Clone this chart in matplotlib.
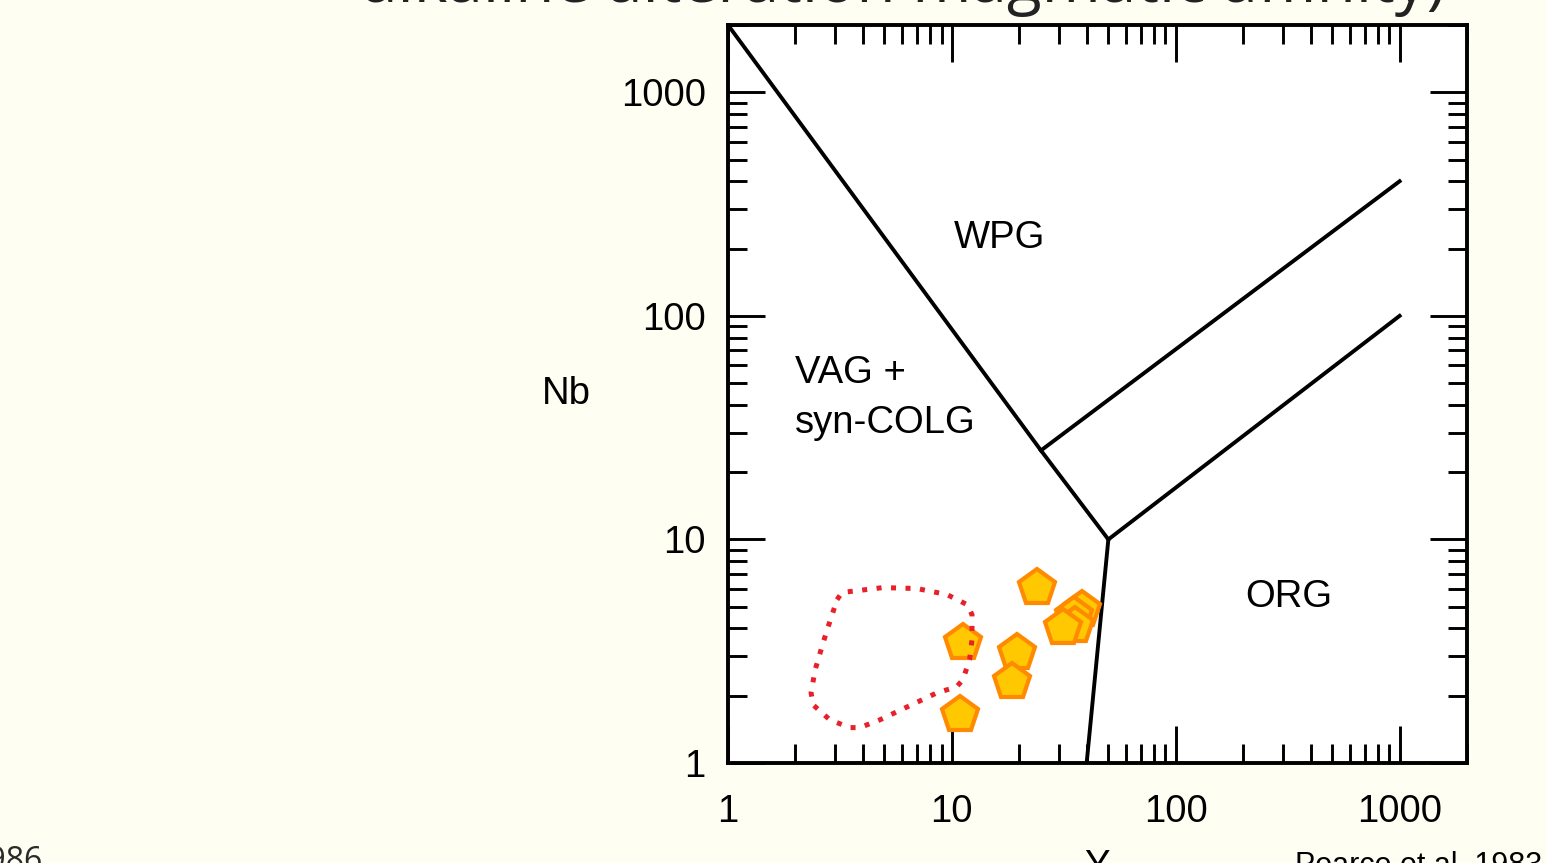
import numpy as np
import matplotlib.pyplot as plt
from matplotlib.ticker import LogLocator, NullFormatter

# Pearce et al. (1984) Nb-Y discrimination boundaries
wpg_line_x = [1, 25, 50]
wpg_line_y = [2000, 25, 10]
org_upper_x = [25, 1000]
org_upper_y = [25, 400]
org_lower_x = [50, 1000]
org_lower_y = [10, 100]
org_base_x = [50, 40]
org_base_y = [10, 1]

# samples
sample_y = [23.9, 11.2, 19.6, 18.5, 10.9, 38.0, 35.1, 35.4, 31.3]
sample_nb = [6.07, 3.44, 3.12, 2.31, 1.64, 4.85, 4.56, 4.11, 4.03]

# dotted reference field (clockwise from top-left)
field_y = [3.07, 3.23, 4.92, 6.98, 9.5, 11.7, 12.3, 12.3, 12.0, 11.2, 10.5,
           8.57, 6.30, 4.77, 3.88, 3.50, 2.85, 2.40, 2.35, 2.45, 2.66, 2.85, 3.07]
field_nb = [5.38, 5.79, 6.09, 6.03, 5.67, 5.11, 4.61, 3.56, 2.90, 2.36, 2.19,
            2.06, 1.78, 1.56, 1.44, 1.44, 1.56, 1.82, 2.06, 2.61, 3.45, 4.29, 5.38]

region_labels = ["WPG", "VAG +\nsyn-COLG", "ORG"]
region_pos = [(16.4, 224), (2.0, 43), (319, 5.55)]

tick_vals = [1, 10, 100, 1000]
tick_labels = ["1", "10", "100", "1000"]

W, H = 1547, 863
fig = plt.figure(figsize=(W / 100, H / 100), dpi=100, facecolor="#fefef2")
ax = fig.add_axes([728 / W, 1 - 763 / H, (1467 - 728) / W, (763 - 25) / H])
ax.set_facecolor("white")

ax.set_xscale("log")
ax.set_yscale("log")
ax.set_xlim(1, 2000)
ax.set_ylim(1, 2000)

lw = 2.8
for xs, ys in [(wpg_line_x, wpg_line_y), (org_upper_x, org_upper_y),
               (org_lower_x, org_lower_y), (org_base_x, org_base_y)]:
    ax.plot(xs, ys, color="black", lw=lw, solid_joinstyle="miter", zorder=2)

ax.plot(sample_y, sample_nb, linestyle="none", marker="p", markersize=27,
        markerfacecolor="#ffc800", markeredgecolor="#ff8a00",
        markeredgewidth=3.0, zorder=3)

ax.plot(field_y, field_nb, color="#e8202a", lw=3.6, linestyle=(0, (1, 1.9)),
        dash_capstyle="butt", zorder=4)

fs = 27.5
for txt, (x, y) in zip(region_labels, region_pos):
    if txt.startswith("VAG"):
        ax.text(x, y, txt, fontsize=fs, family="Liberation Sans",
                ha="left", va="center", linespacing=1.48)
    else:
        ax.text(x, y, txt, fontsize=fs, family="Liberation Sans",
                ha="center", va="center")

# ticks
ax.set_xticks(tick_vals, tick_labels)
ax.set_yticks(tick_vals, tick_labels)
for axis in (ax.xaxis, ax.yaxis):
    axis.set_minor_locator(LogLocator(base=10, subs=np.arange(2, 10)))
    axis.set_minor_formatter(NullFormatter())
ax.tick_params(which="major", direction="in", length=26.5, width=2.1,
               top=True, right=True, labelsize=fs)
ax.tick_params(which="minor", direction="in", length=13.5, width=2.1,
               top=True, right=True)
ax.tick_params(axis="x", which="major", pad=22)
ax.tick_params(axis="y", which="major", pad=16)
for lab in ax.get_xticklabels() + ax.get_yticklabels():
    lab.set_family("Liberation Sans")
for sp in ax.spines.values():
    sp.set_linewidth(2.8)

ax.text(-0.219, 0.5, "Nb", transform=ax.transAxes, fontsize=fs,
        family="Liberation Sans", ha="center", va="center")
fig.text(1097 / W, 1 - 849 / H, "Y", fontsize=fs, family="Liberation Sans",
         ha="center", va="top")
fig.text(1295 / W, 1 - 851 / H, "Pearce et al. 1983", fontsize=22,
         family="Liberation Sans", ha="left", va="top")
fig.text(42 / W, 1 - 845 / H, "Harris et al. 1986", fontsize=23,
         family="Open Sans", color="#2a2a2a", ha="right", va="top")

# clipped slide title
fig.text(1445 / W, 1 - 2 / H, "alkaline alteration magmatic affinity)",
         fontsize=46, family="Open Sans", color="#222222",
         ha="right", va="baseline")

fig.savefig("out.png", dpi=100, facecolor=fig.get_facecolor())
